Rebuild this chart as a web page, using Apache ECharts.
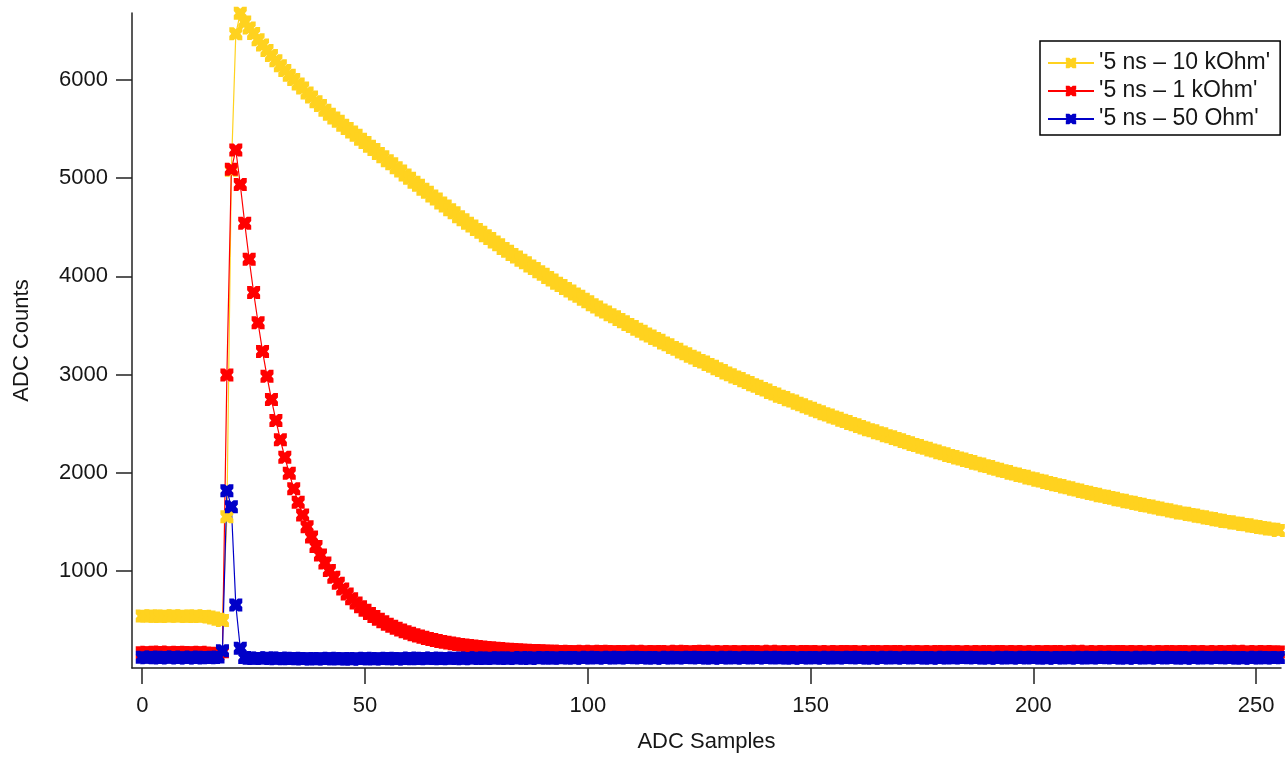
<!DOCTYPE html>
<html>
<head>
<meta charset="utf-8">
<title>ADC pulse shapes</title>
<script src="https://cdn.jsdelivr.net/npm/echarts@6/dist/echarts.min.js"></script>
<style>
  html, body { margin: 0; padding: 0; background: #fff; }
  #chart { width: 1287px; height: 759px; }
</style>
</head>
<body>
<div id="chart"></div>
<script>
// Series names as shown in the legend
const seriesNames = ["'5 ns \u2013 10 kOhm'", "'5 ns \u2013 1 kOhm'", "'5 ns \u2013 50 Ohm'"];

// Axis tick labels
const xTicks = [0, 50, 100, 150, 200, 250];
const yTicks = [1000, 2000, 3000, 4000, 5000, 6000];

// ADC counts per sample (samples 0..255)
const counts10k = [
  541, 538, 543, 540, 536, 542, 539, 544, 538, 541, 537, 540, 543, 536, 539,
  531, 522, 508, 496,
  1553, 5080, 6470, 6680,
  6590, 6528, 6472, 6410, 6356, 6301, 6248, 6196, 6144, 6097,
  6049, 6006, 5958, 5917, 5868, 5826, 5779, 5739, 5692, 5651,
  5612, 5579, 5540, 5507, 5469, 5436, 5396, 5363, 5324, 5291,
  5252, 5219, 5178, 5146, 5105, 5072, 5033, 5000, 4959, 4927,
  4888, 4857, 4818, 4787, 4748, 4717, 4678, 4647, 4608, 4577,
  4541, 4513, 4477, 4449, 4413, 4385, 4349, 4321, 4285, 4257,
  4224, 4198, 4165, 4139, 4106, 4080, 4047, 4021, 3988, 3962,
  3931, 3907, 3876, 3852, 3821, 3797, 3766, 3742, 3711, 3687,
  3658, 3638, 3609, 3588, 3560, 3539, 3510, 3489, 3461, 3440,
  3413, 3394, 3368, 3349, 3322, 3303, 3276, 3258, 3231, 3212,
  3187, 3169, 3144, 3127, 3102, 3084, 3059, 3042, 3016, 2999,
  2975, 2960, 2936, 2920, 2897, 2881, 2857, 2842, 2818, 2802,
  2780, 2766, 2744, 2730, 2708, 2694, 2672, 2658, 2636, 2622,
  2602, 2589, 2569, 2556, 2536, 2523, 2503, 2490, 2470, 2457,
  2438, 2427, 2408, 2397, 2378, 2367, 2348, 2337, 2318, 2307,
  2289, 2279, 2261, 2251, 2233, 2223, 2205, 2195, 2177, 2167,
  2150, 2141, 2124, 2115, 2098, 2089, 2072, 2063, 2046, 2037,
  2021, 2013, 1996, 1988, 1972, 1964, 1948, 1939, 1923, 1915,
  1900, 1892, 1877, 1870, 1855, 1847, 1832, 1825, 1809, 1802,
  1788, 1781, 1767, 1761, 1747, 1740, 1726, 1720, 1705, 1699,
  1686, 1680, 1667, 1661, 1648, 1642, 1629, 1623, 1610, 1604,
  1591, 1587, 1574, 1569, 1557, 1552, 1539, 1534, 1522, 1517,
  1505, 1501, 1489, 1485, 1473, 1470, 1458, 1454, 1442, 1438,
  1427, 1424, 1413
];

const counts1k = [
  168, 172, 165, 170, 174, 167, 171, 166, 173, 169, 164, 171, 168, 172, 166, 163, 160,
  156, 178,
  2996, 5090, 5287,
  4936, 4541, 4174, 3836, 3528, 3236, 2982, 2745, 2533, 2336,
  2158, 1994, 1838, 1699, 1570, 1450, 1346, 1250, 1162, 1082,
  1006, 937, 874, 817, 765, 718, 675, 636, 600, 566,
  536, 508, 482, 458, 437, 416, 398, 381, 365, 350,
  337, 324, 313, 302, 292, 283, 274, 266, 259, 252,
  246, 240, 235, 230, 225, 221, 217, 213, 210, 206,
  203, 200, 198, 195, 193, 191, 189, 187, 185,
  184, 182, 179, 183, 180, 177, 181, 178, 182, 176,
  180, 177, 183, 179, 175, 181, 178, 174, 180, 177,
  182, 176, 179, 175, 181, 178, 173, 180, 176, 182,
  177, 174, 180, 176, 179, 183, 175, 178, 172, 179,
  176, 181, 174, 178, 175, 180, 177, 173, 179, 176,
  182, 175, 178, 174, 180, 176, 179, 173, 177, 181,
  175, 178, 172, 179, 176, 180, 174, 177, 181, 175,
  178, 173, 180, 176, 174, 179, 175, 181, 177, 172,
  179, 176, 180, 174, 178, 175, 181, 173, 177, 179,
  174, 180, 176, 178, 172, 179, 175, 181, 176, 173,
  180, 177, 174, 179, 175, 181, 176, 178, 173, 180,
  176, 179, 174, 181, 177, 173, 180, 175, 178, 182,
  175, 178, 173, 180, 176, 179, 174, 181, 177, 175,
  179, 174, 180, 176, 178, 172, 179, 175, 181, 176,
  173, 180, 177, 174, 179, 176, 181, 175, 178, 173,
  180, 176, 179, 174, 177, 182, 175, 178, 173, 179,
  176, 180, 174, 178, 175
];

const counts50 = [
  122, 116, 125, 119, 113, 121, 118, 124, 115, 120, 117, 123, 114, 119, 121, 116, 118, 124,
  188,
  1818, 1655, 654, 213,
  118, 112, 108, 114, 110, 116, 111, 107, 113, 109,
  106, 112, 108, 104, 110, 107, 103, 109, 105, 111,
  107, 104, 110, 106, 102, 108, 105, 111, 107, 103,
  109, 106, 112, 108, 104, 110, 107, 113, 109, 105,
  111, 108, 114, 110, 106, 112, 109, 115, 111, 107,
  113, 110, 116, 112, 108, 114, 111, 117, 113, 109,
  115, 112, 118, 114, 110, 116, 113, 119, 115, 111,
  117, 114, 120, 116, 112, 118, 115, 121, 117, 113,
  119, 115, 121, 117, 113, 120, 116, 122, 118, 114,
  120, 116, 112, 119, 115, 121, 117, 113, 119, 116,
  122, 118, 114, 120, 116, 112, 119, 115, 121, 117,
  113, 119, 115, 121, 118, 114, 120, 116, 122, 117,
  113, 119, 116, 112, 118, 114, 120, 117, 113, 119,
  115, 121, 117, 113, 119, 116, 122, 118, 114, 120,
  116, 112, 118, 115, 121, 117, 113, 119, 115, 121,
  118, 114, 120, 116, 112, 119, 115, 121, 117, 113,
  119, 116, 122, 118, 114, 120, 116, 112, 118, 115,
  121, 117, 113, 119, 115, 121, 118, 114, 120, 116,
  112, 118, 114, 120, 117, 113, 119, 115, 121, 117,
  113, 119, 116, 122, 118, 114, 120, 116, 112, 118,
  115, 121, 117, 113, 119, 115, 121, 118, 114, 120,
  116, 112, 119, 115, 121, 117, 113, 119, 116, 122,
  118, 114, 120, 116, 112, 118, 115, 121, 117, 113,
  119, 116, 120
];

const seriesColors = ['#FFD21F', '#FF0000', '#0000C8'];

// Square marker with shallow notches on each side
const crossMarker = 'path://M0,0L4,0L6,1.8L8,0L12,0L12,4L10.2,6L12,8L12,12L8,12L6,10.2L4,12L0,12L0,8L1.8,6L0,4Z';

const FONT = "'Liberation Sans', Arial, sans-serif";
const TEXT_COLOR = '#161616';

function toPairs(values) {
  return values.map((v, i) => [i, v]);
}

function makeSeries(name, values, color) {
  return {
    name: name,
    type: 'line',
    data: toPairs(values),
    symbol: crossMarker,
    symbolSize: 13,
    showAllSymbol: true,
    itemStyle: { color: color },
    lineStyle: { color: color, width: 1.2 },
    emphasis: { disabled: true },
    animation: false
  };
}

const chart = echarts.init(document.getElementById('chart'), null, { renderer: 'canvas' });

chart.setOption({
  backgroundColor: '#ffffff',
  animation: false,
  grid: { left: 132, right: 6, top: 13, bottom: 91, containLabel: false, outerBoundsMode: 'none' },
  xAxis: {
    type: 'value',
    min: -2.3,
    max: 255.6,
    name: 'ADC Samples',
    nameLocation: 'middle',
    nameGap: 63,
    nameTextStyle: { fontFamily: FONT, fontSize: 22, color: TEXT_COLOR },
    axisLine: { show: true, onZero: false, lineStyle: { color: '#222', width: 1.5 } },
    axisTick: { show: true, customValues: xTicks, length: 16, lineStyle: { color: '#222', width: 1.5 } },
    axisLabel: { customValues: xTicks, margin: 27, fontFamily: FONT, fontSize: 22, color: TEXT_COLOR,
                 formatter: (v) => String(v) },
    splitLine: { show: false }
  },
  yAxis: {
    type: 'value',
    min: 12,
    max: 6682,
    name: 'ADC Counts',
    nameLocation: 'middle',
    nameGap: 99,
    nameTextStyle: { fontFamily: FONT, fontSize: 22, color: TEXT_COLOR },
    axisLine: { show: true, onZero: false, lineStyle: { color: '#222', width: 1.5 } },
    axisTick: { show: true, customValues: yTicks, length: 16, lineStyle: { color: '#222', width: 1.5 } },
    axisLabel: { customValues: yTicks, margin: 24, fontFamily: FONT, fontSize: 22, color: TEXT_COLOR,
                 formatter: (v) => String(v) },
    splitLine: { show: false }
  },
  legend: {
    orient: 'vertical',
    left: 1040,
    top: 41,
    padding: [10, 10, 4, 7],
    itemGap: 4,
    itemWidth: 46,
    itemHeight: 13,
    borderColor: '#000',
    borderWidth: 1.5,
    backgroundColor: '#fff',
    selectedMode: false,
    textStyle: { fontFamily: FONT, fontSize: 23, color: TEXT_COLOR, lineHeight: 24 },
    data: seriesNames
  },
  series: [
    makeSeries(seriesNames[0], counts10k, seriesColors[0]),
    makeSeries(seriesNames[1], counts1k, seriesColors[1]),
    makeSeries(seriesNames[2], counts50, seriesColors[2])
  ]
});
</script>
</body>
</html>
